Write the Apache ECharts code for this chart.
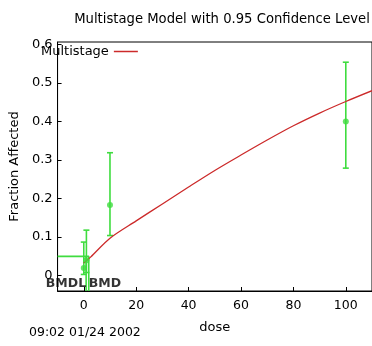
<!DOCTYPE html>
<html>
<head>
<meta charset="utf-8">
<style>
  html, body { margin: 0; padding: 0; background: #fff; }
  #chart { width: 372px; height: 346px; }
</style>
<script src="https://cdn.jsdelivr.net/npm/echarts@6/dist/echarts.min.js"></script>
</head>
<body>
<div id="chart"></div>
<script>
// Observed dose groups: dose, fraction affected, lower / upper 95% limits
const doses = [0, 1, 10, 100];
const observed = [0.02, 0.04, 0.183, 0.40];
const lowerCI = [0.003, 0.008, 0.104, 0.279];
const upperCI = [0.087, 0.118, 0.319, 0.554];

// Fitted multistage curve
const curveDose = [0, 2.6, 10, 20, 30, 40, 50, 60, 70, 80, 90, 100, 110];
const curveFrac = [0.033, 0.048, 0.097, 0.142, 0.186, 0.23, 0.273, 0.313, 0.352, 0.389, 0.422, 0.452, 0.48];

// Benchmark response and doses
const bmr = 0.05;
const bmdl = 0.9;
const bmd = 1.9;

const xTicks = [0, 20, 40, 60, 80, 100];
const yTicks = [0, 0.1, 0.2, 0.3, 0.4, 0.5, 0.6];
const xMin = -10, xMax = 110;
const yMin = -0.04, yMax = 0.6065;

const FONT = 'DejaVu Sans';
const GREEN = '#3fdc3f';
const RED = '#cc2a2a';

const chart = echarts.init(document.getElementById('chart'), null, { renderer: 'canvas' });

const errorData = doses.map((d, i) => [d, observed[i], lowerCI[i], upperCI[i]]);

chart.setOption({
  animation: false,
  backgroundColor: '#fff',
  title: {
    text: 'Multistage Model with 0.95 Confidence Level',
    left: 217, top: 8, textAlign: 'center',
    textStyle: { fontFamily: FONT, fontSize: 13.2, fontWeight: 'normal', color: '#000' }
  },
  legend: {
    data: [{ name: 'Multistage', icon: 'rect' }],
    left: 41, top: 45,
    align: 'right',
    itemWidth: 24, itemHeight: 1.5,
    padding: 0,
    textStyle: { fontFamily: FONT, fontSize: 13, color: '#000' }
  },
  graphic: [{
    type: 'text', left: 29, top: 326,
    style: { text: '09:02 01/24 2002', fontFamily: FONT, fontSize: 12.5, fill: '#000' }
  }],
  grid: {
    left: 56, top: 42, width: 320, height: 249,
    show: true, borderColor: '#000', borderWidth: 1
  },
  xAxis: {
    type: 'value', min: xMin, max: xMax,
    name: 'dose', nameLocation: 'middle', nameGap: 30,
    nameTextStyle: { fontFamily: FONT, fontSize: 13, color: '#000' },
    axisLine: { onZero: false, lineStyle: { color: '#000', width: 1 } },
    axisTick: { inside: true, length: 4, customValues: xTicks, lineStyle: { color: '#000' } },
    axisLabel: { customValues: xTicks, fontFamily: FONT, fontSize: 12.5, color: '#000', margin: 8 },
    splitLine: { show: false }
  },
  yAxis: {
    type: 'value', min: yMin, max: yMax,
    name: 'Fraction Affected', nameLocation: 'middle', nameGap: 26,
    nameTextStyle: { fontFamily: FONT, fontSize: 13, color: '#000' },
    axisLine: { onZero: false, lineStyle: { color: '#000', width: 1 } },
    axisTick: { inside: true, length: 4, customValues: yTicks, lineStyle: { color: '#000' } },
    axisLabel: {
      customValues: yTicks, fontFamily: FONT, fontSize: 13, color: '#000', margin: 5,
      formatter: v => (v === 0 ? '0' : v.toFixed(1))
    },
    splitLine: { show: false }
  },
  series: [
    {
      name: 'Multistage', type: 'line',
      data: curveDose.map((d, i) => [d, curveFrac[i]]),
      showSymbol: false, symbol: 'none', smooth: 0.3,
      lineStyle: { color: RED, width: 1.3 },
      itemStyle: { color: RED },
      z: 3
    },
    {
      name: 'ci', type: 'custom',
      data: errorData,
      renderItem: (params, api) => {
        const x = api.value(0);
        const lo = api.coord([x, api.value(2)]);
        const hi = api.coord([x, api.value(3)]);
        const cap = 3;
        const style = { stroke: GREEN, lineWidth: 1.6 };
        return {
          type: 'group',
          children: [
            { type: 'line', shape: { x1: lo[0], y1: lo[1], x2: hi[0], y2: hi[1] }, style },
            { type: 'line', shape: { x1: hi[0] - cap, y1: hi[1], x2: hi[0] + cap, y2: hi[1] }, style },
            { type: 'line', shape: { x1: lo[0] - cap, y1: lo[1], x2: lo[0] + cap, y2: lo[1] }, style }
          ]
        };
      },
      z: 2
    },
    {
      name: 'observed', type: 'scatter',
      data: doses.map((d, i) => [d, observed[i]]),
      symbol: 'circle', symbolSize: 6,
      itemStyle: { color: GREEN },
      z: 4
    },
    {
      name: 'bmd', type: 'line',
      data: [[xMin, bmr], [bmd, bmr], [bmd, yMin]],
      showSymbol: false, symbol: 'none',
      lineStyle: { color: GREEN, width: 1.6 },
      z: 2
    },
    {
      name: 'bmdl', type: 'line',
      data: [[bmdl, bmr], [bmdl, yMin]],
      showSymbol: false, symbol: 'none',
      lineStyle: { color: GREEN, width: 1.6 },
      z: 2
    },
    {
      name: 'bmdText', type: 'scatter',
      data: [
        { value: [bmdl, -0.022], label: { show: true, formatter: 'BMDL', position: 'left', distance: 0 } },
        { value: [bmd, -0.022], label: { show: true, formatter: 'BMD', position: 'right', distance: 0 } }
      ],
      symbolSize: 0,
      label: { fontFamily: FONT, fontSize: 12.5, fontWeight: 'bold', color: '#000' },
      z: 5
    }
  ]
});
</script>
</body>
</html>
